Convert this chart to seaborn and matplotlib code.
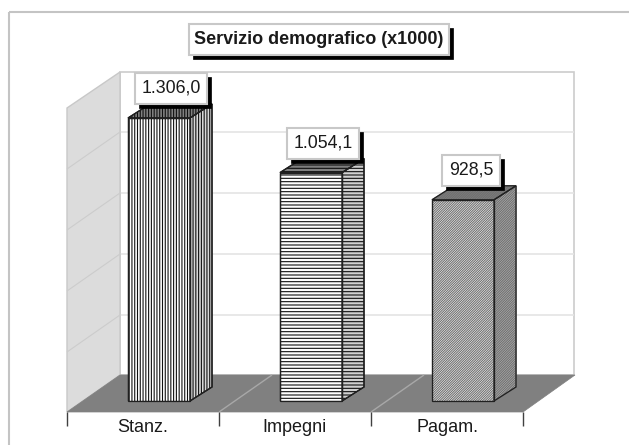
import matplotlib
matplotlib.use('Agg')
import matplotlib.pyplot as plt
import seaborn as sns
from matplotlib.patches import Polygon, Rectangle
from matplotlib.transforms import Affine2D, IdentityTransform

categories = ['Stanz.', 'Impegni', 'Pagam.']
values = [1306.0, 1054.1, 928.5]
value_labels = ['1.306,0', '1.054,1', '928,5']
title = 'Servizio demografico (x1000)'

W, H = 629, 445
plt.rcParams['font.family'] = ['Liberation Sans', 'DejaVu Sans']
plt.rcParams['hatch.linewidth'] = 0.8

fig = plt.figure(figsize=(W / 100, H / 100), dpi=100, facecolor='white')
# bars sit on the mid depth line of the floor
ax = fig.add_axes([83 / W, (H - 401) / H, 456 / W, 329 / H])
sns.barplot(x=categories, y=values, color='white', saturation=1, width=0.408, ax=ax)
ax.set_xlim(-0.5, 2.5)
ax.set_ylim(0, 329 / 0.2167)
ax.axis('off')

# picture coordinates, y going down
px = Affine2D().scale(1, -1).translate(0, H)


def poly(pts, **kw):
    ax.add_patch(Polygon(pts, closed=True, transform=px, clip_on=False, **kw))


def line(xs, ys, color, lw=1, z=1):
    ax.plot(xs, ys, color=color, lw=lw, transform=px, clip_on=False, zorder=z, solid_capstyle='butt')


# page border
line([9, 9], [445, 12], '#c4c4c4', 1.5, 0.1)
line([9, 629], [12, 12], '#c4c4c4', 1.5, 0.1)

# walls and floor
poly([(120, 72), (574, 72), (574, 375), (120, 375)], fc='white', ec='#cccccc', lw=1.2, zorder=0.2)
poly([(67, 108), (120, 72), (120, 375), (67, 412)], fc='#dcdcdc', ec='#c8c8c8', lw=1, zorder=0.3)
poly([(67, 412), (120, 375), (575, 375), (523, 412)], fc='#808080', ec='#808080', lw=0.5, zorder=0.4)
for y in [132, 193, 254, 315]:
    line([120, 574], [y, y], '#e4e4e4', 1.2, 0.25)
    line([67, 120], [y + 37, y], '#cccccc', 0.8, 0.35)
for x in [219, 371]:
    line([x, x + 53], [412, 375], '#a8a8a8', 1, 0.45)
for x in [67, 219, 371, 523]:
    line([x, x], [412, 426], '#404040', 1, 0.5)

# bars with their depth faces, built from the seaborn patches
styles = [('||||||', '#101010', '#808080', '#d8d8d8'),
          ('-----', '#101010', '#808080', '#d0d0d0'),
          ('//////////////', '#707070', '#808080', '#b8b8b8')]
dx, dy = 22, 14
fig.canvas.draw()
for bar, (hatch, hatch_col, top_fc, side_fc) in zip(list(ax.patches), styles):
    bar.set_hatch(hatch)
    bar.set_edgecolor(hatch_col)
    bar.set_linewidth(0.9)
    bar.set_zorder(3)
    (x0, y0), (x1, y1) = ax.transData.transform(
        [(bar.get_x(), 0), (bar.get_x() + bar.get_width(), bar.get_height())])
    side = [(x1, y0), (x1 + dx, y0 + dy), (x1 + dx, y1 + dy), (x1, y1)]
    top = [(x0, y1), (x1, y1), (x1 + dx, y1 + dy), (x0 + dx, y1 + dy)]
    front = [(x0, y0), (x1, y0), (x1, y1), (x0, y1)]
    ident = IdentityTransform()
    ax.add_patch(Polygon(side, closed=True, fc=side_fc, ec=hatch_col, lw=0.9, hatch=hatch,
                         transform=ident, clip_on=False, zorder=2.5))
    ax.add_patch(Polygon(top, closed=True, fc=top_fc, ec=hatch_col, lw=0.9, hatch=hatch,
                         transform=ident, clip_on=False, zorder=2.6))
    for pts in (side, top, front):
        ax.add_patch(Polygon(pts, closed=True, fc='none', ec='#202020', lw=0.9,
                             transform=ident, clip_on=False, zorder=3.5))


def boxed(cx, top, text, pad, **kw):
    t = ax.text(cx, top + 15.5, text, transform=px, ha='center', va='center', color='#1a1a1a',
                clip_on=False, zorder=8, **kw)
    w = t.get_window_extent(fig.canvas.get_renderer()).width + 2 * pad
    ax.add_patch(Rectangle((cx - w / 2 + 4, top + 4), w, 31, fc='black', ec='black', lw=0.5,
                           transform=px, clip_on=False, zorder=6))
    ax.add_patch(Rectangle((cx - w / 2, top), w, 31, fc='white', ec='#c8c8c8', lw=1.5,
                           transform=px, clip_on=False, zorder=7))


boxed(319, 24, title, 5, fontsize=13, fontweight='bold')
offsets = [12, 12, 8]
for i, (label, off) in enumerate(zip(value_labels, offsets)):
    bar = ax.patches[i]
    xc, yt = ax.transData.transform((bar.get_x() + bar.get_width() / 2, bar.get_height()))
    boxed(xc + off, H - yt - 45, label, 6.5, fontsize=12.8)

# category labels
for i, cat in enumerate(categories):
    ax.text(143 + 152 * i, 428, cat, transform=px, ha='center', va='center', fontsize=13,
            color='#1a1a1a', clip_on=False)

fig.savefig('out.png', dpi=100)
